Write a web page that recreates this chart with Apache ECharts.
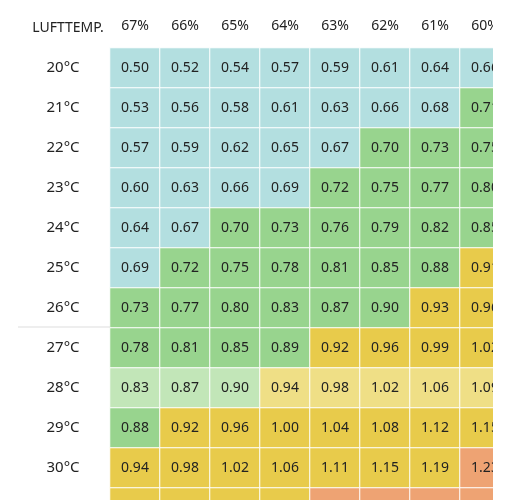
<!DOCTYPE html>
<html><head><meta charset="utf-8">
<script src="https://cdn.jsdelivr.net/npm/echarts@6/dist/echarts.min.js"></script>
<style>html,body{margin:0;padding:0;background:#fff;overflow:hidden}#c{width:520px;height:530px}</style>
</head><body><div id="c"></div>
<script>
const humidity = ['67%','66%','65%','64%','63%','62%','61%','60%'];
const temps = ['20°C','21°C','22°C','23°C','24°C','25°C','26°C','27°C','28°C','29°C','30°C','31°C'];
const values = [
 [0.50,0.52,0.54,0.57,0.59,0.61,0.64,0.66],
 [0.53,0.56,0.58,0.61,0.63,0.66,0.68,0.71],
 [0.57,0.59,0.62,0.65,0.67,0.70,0.73,0.75],
 [0.60,0.63,0.66,0.69,0.72,0.75,0.77,0.80],
 [0.64,0.67,0.70,0.73,0.76,0.79,0.82,0.85],
 [0.69,0.72,0.75,0.78,0.81,0.85,0.88,0.91],
 [0.73,0.77,0.80,0.83,0.87,0.90,0.93,0.96],
 [0.78,0.81,0.85,0.89,0.92,0.96,0.99,1.02],
 [0.83,0.87,0.90,0.94,0.98,1.02,1.06,1.09],
 [0.88,0.92,0.96,1.00,1.04,1.08,1.12,1.15],
 [0.94,0.98,1.02,1.06,1.11,1.15,1.19,1.23],
 [1.00,1.04,1.08,1.12,1.17,1.21,1.26,1.30]
];
const zones = [
 'BBBBBBBB','BBBBBBBG','BBBBBGGG','BBBBGGGG','BBGGGGGG','BGGGGGGY',
 'GGGGGGYY','GGGGYYYY','LLLMMMMM','GYYYYYYY','YYYYYYYO','YYYYOOOO'
];
const zoneColors = {B:'#b3dfe0',G:'#98d48e',L:'#c2e6b8',Y:'#e8cb4b',M:'#efdf86',O:'#eea373'};
const data = [];
values.forEach((row,r)=>row.forEach((v,c)=>{
  data.push({value:[c,r,v],itemStyle:{color:zoneColors[zones[r][c]]}});
}));
const font = '"Noto Sans", sans-serif';
const chart = echarts.init(document.getElementById('c'));
chart.setOption({
  animation:false,
  title:{text:'LUFTTEMP.',left:63,top:16,textAlign:'center',
    textStyle:{fontFamily:font,fontSize:14,fontWeight:'normal',color:'#222'}},
  grid:{left:110,top:48,width:400,height:480},
  xAxis:{type:'category',data:humidity,position:'top',
    axisLine:{show:false},axisTick:{show:false},splitLine:{show:false},
    axisLabel:{fontFamily:font,fontSize:14,color:'#222',margin:15}},
  yAxis:{type:'category',data:temps,inverse:true,
    axisLine:{show:false},axisTick:{show:false},splitLine:{show:false},
    axisLabel:{fontFamily:font,fontSize:15,color:'#222',align:'center',margin:47}},
  series:[{type:'heatmap',data:data,
    itemStyle:{borderColor:'#ffffff',borderWidth:1},
    label:{show:true,fontFamily:font,fontSize:14,color:'#222',
      formatter:p=>p.value[2].toFixed(2)}}],
  graphic:[{type:'rect',shape:{x:493,y:0,width:30,height:530},style:{fill:'#fff'},z:100},
    {type:'line',shape:{x1:18,y1:327,x2:110,y2:327},style:{stroke:'#dddddd',lineWidth:1},z:100}]
});
</script></body></html>
